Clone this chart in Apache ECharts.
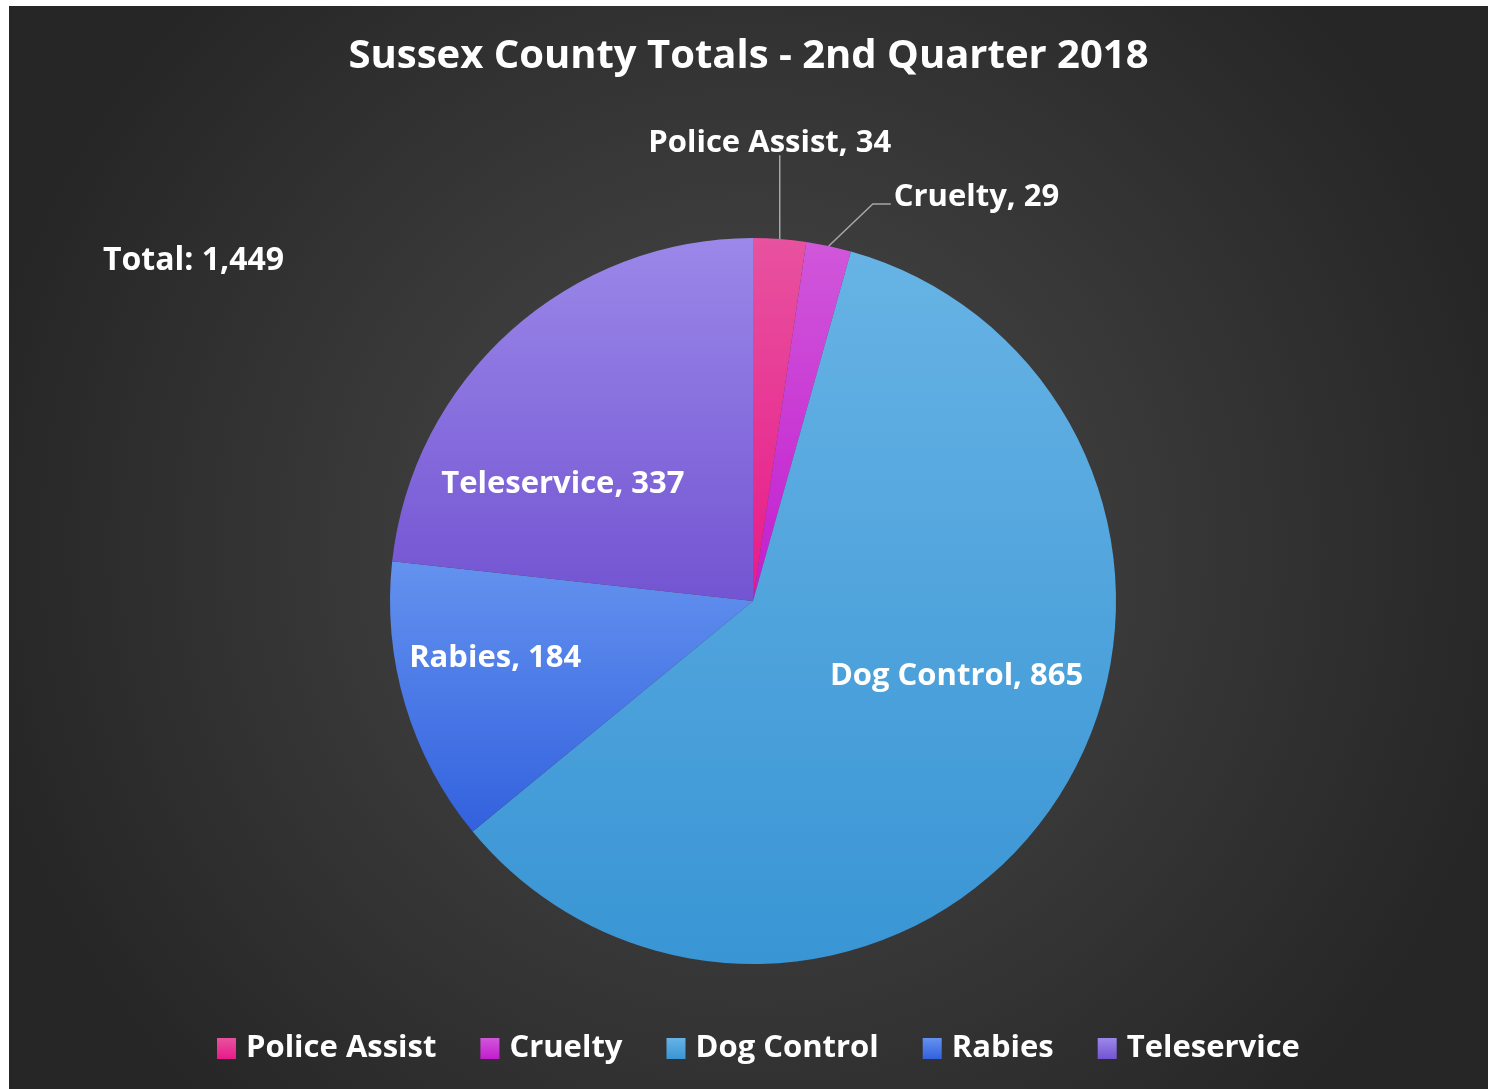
<!DOCTYPE html>
<html>
<head>
<meta charset="utf-8">
<title>Sussex County Totals</title>
<script src="https://cdn.jsdelivr.net/npm/echarts@6/dist/echarts.min.js"></script>
<style>
  html, body { margin: 0; padding: 0; background: #ffffff; }
  #chart { position: absolute; left: 9px; top: 6px; width: 1479px; height: 1083px; }
</style>
</head>
<body>
<div id="chart"></div>
<script>
const categories = ['Police Assist', 'Cruelty', 'Dog Control', 'Rabies', 'Teleservice'];
const counts = [34, 29, 865, 184, 337];
// top / bottom colour of each slice gradient
const topColors = ['#e8529f', '#d057da', '#67b3e5', '#6392ef', '#9b88e9'];
const bottomColors = ['#e81a89', '#c21dcf', '#3995d4', '#3361de', '#7354d2'];
// labels that sit outside the pie
const outside = ['Police Assist', 'Cruelty'];
// nudges for the labels drawn inside the slices
const insideNudge = { 'Dog Control': [49, -26], 'Rabies': [-81, 5], 'Teleservice': [-67, 21] };

const FONT = '"Open Sans"';
const total = counts.reduce((a, b) => a + b, 0);

const grad = (i) => new echarts.graphic.LinearGradient(0, 0, 0, 1, [
  { offset: 0, color: topColors[i] },
  { offset: 1, color: bottomColors[i] }
]);

const pieData = categories.map((name, i) => {
  const out = outside.includes(name);
  return {
    name: name,
    value: counts[i],
    itemStyle: { color: grad(i) },
    label: { position: out ? 'outside' : 'inside' },
    labelLine: { show: out }
  };
});

const chart = echarts.init(document.getElementById('chart'));

chart.setOption({
  backgroundColor: {
    type: 'radial', x: 0.5, y: 0.5, r: 0.72,
    colorStops: [
      { offset: 0, color: '#4b4b4b' },
      { offset: 1, color: '#262626' }
    ]
  },
  title: [
    {
      text: 'Sussex County Totals - 2nd Quarter 2018',
      left: 'center',
      top: 26,
      textStyle: { color: '#ffffff', fontFamily: FONT, fontWeight: 'bold', fontSize: 40 }
    },
    {
      text: 'Total: ' + total.toLocaleString('en-US'),
      left: 94,
      top: 239,
      padding: 0,
      textStyle: { color: '#ffffff', fontFamily: FONT, fontWeight: 'bold', fontSize: 32 }
    }
  ],
  legend: {
    data: categories,
    bottom: 20,
    left: 203,
    icon: 'rect',
    itemWidth: 19,
    itemHeight: 21,
    itemGap: 44,
    textStyle: { color: '#ffffff', fontFamily: FONT, fontWeight: 'bold', fontSize: 31, padding: [0, 0, 0, 5] }
  },
  series: [{
    type: 'pie',
    center: [744, 595],
    radius: 363,
    startAngle: 90,
    clockwise: true,
    avoidLabelOverlap: false,
    silent: true,
    label: {
      color: '#ffffff',
      fontFamily: FONT,
      fontWeight: 'bold',
      fontSize: 31,
      formatter: '{b}, {c}'
    },
    labelLine: {
      length: 84,
      length2: 18,
      lineStyle: { color: '#a6a6a6', width: 1.5 }
    },
    labelLayout: function (p) {
      const name = categories[p.dataIndex];
      const pts = p.labelLinePoints;
      if (name === 'Police Assist' && pts) {
        const x = pts[0][0];
        const yTop = pts[1][1];
        return {
          x: x - 10, y: yTop + 3, align: 'center', verticalAlign: 'bottom',
          labelLinePoints: [pts[0], [x, yTop], [x, yTop]]
        };
      }
      if (name === 'Cruelty' && pts) {
        const p0 = pts[0];
        const p1 = [p0[0] + 44, p0[1] - 42];
        const p2 = [p1[0] + 18, p1[1]];
        return {
          x: p2[0] + 3, y: p2[1] - 7, align: 'left', verticalAlign: 'middle',
          labelLinePoints: [p0, p1, p2]
        };
      }
      const n = insideNudge[name];
      return n ? { dx: n[0], dy: n[1] } : {};
    },
    data: pieData
  }]
});
</script>
</body>
</html>
